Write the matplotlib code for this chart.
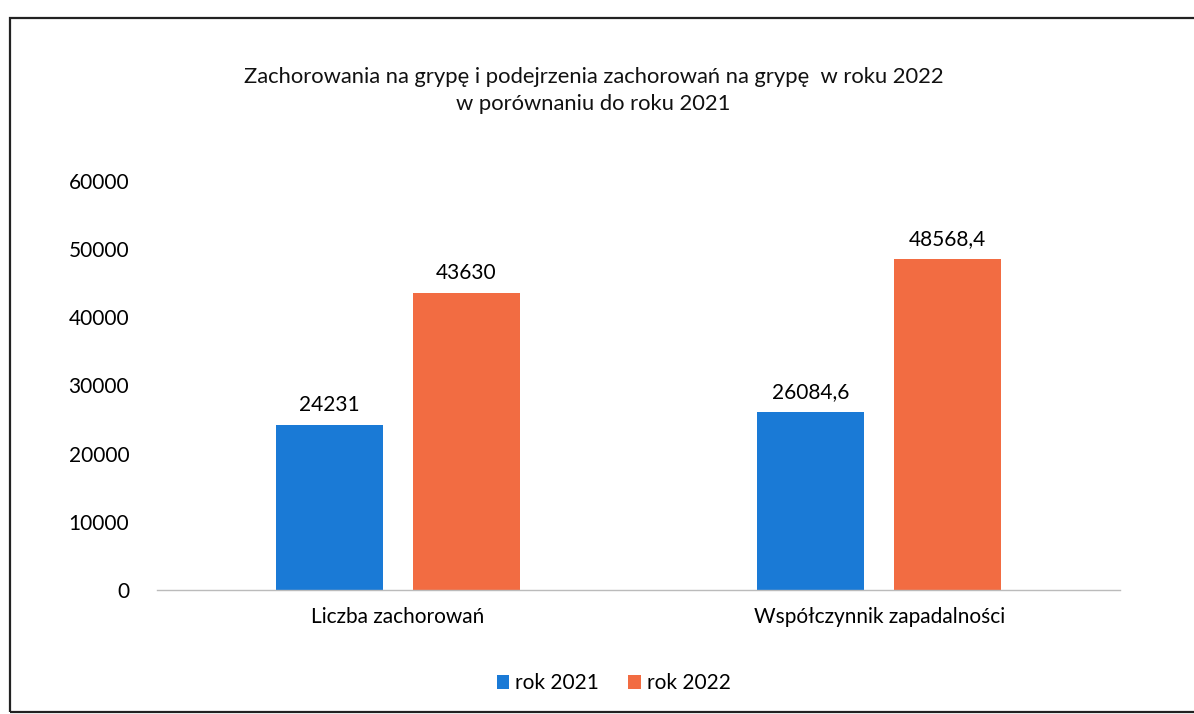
import matplotlib
matplotlib.use('Agg')
import matplotlib.pyplot as plt
import numpy as np
from matplotlib.patches import Rectangle

categories = ['Liczba zachorowań', 'Współczynnik zapadalności']
series_names = ['rok 2021', 'rok 2022']
values_2021 = [24231, 26084.6]
values_2022 = [43630, 48568.4]
labels_2021 = ['24231', '26084,6']
labels_2022 = ['43630', '48568,4']
yticks = [0, 10000, 20000, 30000, 40000, 50000, 60000]

blue = '#1a7ad6'
orange = '#f26c42'

plt.rcParams['font.family'] = ['Lato', 'DejaVu Sans']
fs = 15

fig = plt.figure(figsize=(11.94, 7.14), dpi=100)
ax = fig.add_axes([0.1315, 0.1737, 0.8065, 0.5728])

# frame around the whole chart
fig.patches.append(Rectangle((0.0085, 0.003), 1.2, 0.972, transform=fig.transFigure,
                             fill=False, edgecolor='#222222', linewidth=1.6))

x = np.arange(len(categories))
w = 0.222
off = 0.142
b1 = ax.bar(x - off, values_2021, w, color=blue, label=series_names[0])
b2 = ax.bar(x + off, values_2022, w, color=orange, label=series_names[1])

for rect, lab in zip(b1, labels_2021):
    ax.annotate(lab, (rect.get_x() + rect.get_width() / 2, rect.get_height()),
                xytext=(0, 7), textcoords='offset points', ha='center', va='bottom', fontsize=fs)
for rect, lab in zip(b2, labels_2022):
    ax.annotate(lab, (rect.get_x() + rect.get_width() / 2, rect.get_height()),
                xytext=(0, 7), textcoords='offset points', ha='center', va='bottom', fontsize=fs)

ax.set_xlim(-0.5, 1.5)
ax.set_ylim(0, 60000)
ax.set_yticks(yticks)
ax.set_yticklabels([str(t) for t in yticks], fontsize=fs)
ax.set_xticks(x)
ax.set_xticklabels(categories, fontsize=fs)
ax.tick_params(axis='y', length=0, pad=20)
ax.tick_params(axis='x', length=0, pad=12)
for s in ['top', 'right', 'left']:
    ax.spines[s].set_visible(False)
ax.spines['bottom'].set_color('#bbbbbb')
ax.spines['bottom'].set_linewidth(1)

fig.text(0.497, 0.873, 'Zachorowania na grypę i podejrzenia zachorowań na grypę  w roku 2022\nw porównaniu do roku 2021',
         ha='center', va='center', fontsize=15.8, linespacing=1.4, color='#111111')

fig.legend(handles=[b1, b2], loc='center', bbox_to_anchor=(0.514, 0.043), ncol=2, frameon=False,
           fontsize=fs, handlelength=0.6, handleheight=0.6, handletextpad=0.3, columnspacing=1.4)

fig.savefig('out.png', dpi=100)
